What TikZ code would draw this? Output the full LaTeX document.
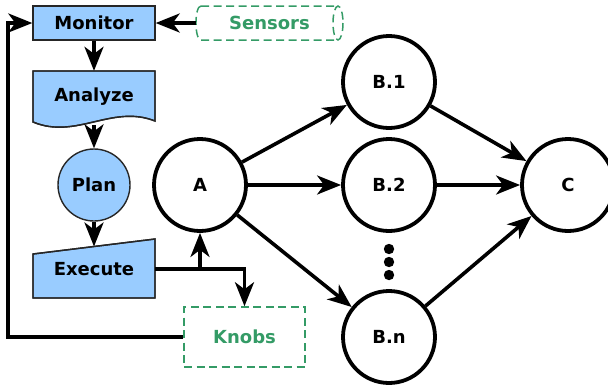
\documentclass[tikz,border=0pt]{standalone}
\usepackage{fontspec}
\setmainfont{DejaVu Sans}
\usetikzlibrary{arrows.meta,calc}
\definecolor{boxblue}{RGB}{153,204,255}
\definecolor{knobgreen}{RGB}{52,155,102}
\tikzset{
  conn/.style={line width=3.6pt,-{Stealth[length=24pt,width=19pt,inset=7pt]}},
  plain/.style={line width=3.6pt},
  mapebox/.style={fill=boxblue,draw=black!85,line width=1.4pt},
  statenode/.style={circle,draw,line width=3.8pt,minimum size=92pt,inner sep=0pt},
  extbox/.style={draw=knobgreen,dashed,dash pattern=on 8pt off 4.5pt,line width=1.5pt},
  lbl/.style={font=\fontsize{18}{21}\selectfont\bfseries},
  glbl/.style={lbl,text=knobgreen},
}
\begin{document}
\begin{tikzpicture}[x=1pt,y=-1pt]
\useasboundingbox (0,0) rectangle (608,384);

% MAPE loop shapes
\fill[mapebox] (33,71) -- (155,71) -- (155,121)
  .. controls (112,104) and (76,140) .. (33,122) -- cycle;
\fill[mapebox] (33,254) -- (155,239) -- (155,298) -- (33,298) -- cycle;
\draw[draw=black!85,line width=1.4pt] (33,71) -- (155,71) -- (155,121)
  .. controls (112,104) and (76,140) .. (33,122) -- cycle;
\draw[draw=black!85,line width=1.4pt] (33,254) -- (155,239) -- (155,298) -- (33,298) -- cycle;

\node[mapebox,draw,minimum width=122pt,minimum height=34pt,inner sep=0pt,lbl] (monitor) at (94,23) {Monitor};
\node[minimum width=122pt,minimum height=52pt,inner sep=0pt,lbl] (analyze) at (94,97) {\raisebox{-5pt}{Analyze}};
\node[circle,mapebox,draw,minimum size=72pt,inner sep=0pt,lbl] (plan) at (94,185) {Plan};
\node[minimum width=122pt,minimum height=59pt,inner sep=0pt,lbl] (execute) at (94,269) {\raisebox{-1pt}{Execute}};
\coordinate (exectop) at (94,246.5);

% sensors drawn as a horizontal cylinder
\node[minimum width=147pt,minimum height=34pt,inner sep=0pt,glbl] (sensors) at (269.5,23) {Sensors};
\draw[extbox] (201,6) -- (338,6) (201,40) -- (338,40)
  (201,6) .. controls (194.3,6) and (194.3,40) .. (201,40);
\draw[extbox] (338,23) ellipse [x radius=5, y radius=17];

\node[extbox,draw,minimum width=121pt,minimum height=60pt,inner sep=0pt,glbl] (knobs) at (244.5,337) {Knobs};

% state graph
\node[statenode,lbl] (A) at (200,185) {A};
\node[statenode,lbl] (B1) at (389,82) {B.1};
\node[statenode,lbl] (B2) at (389,185) {B.2};
\node[statenode,lbl] (Bn) at (389,337) {B.n};
\node[statenode,lbl] (C) at (568,185) {C};
\foreach \yy in {249,262,275} \fill (389,\yy) circle (5.2pt);

% connectors
\draw[conn] (sensors.west) -- (monitor.east);
\draw[conn] (monitor.south) -- (analyze.north);
\draw[conn] (94,125) -- (plan.north);
\draw[conn] (plan.south) -- (exectop);
\coordinate (split) at (200,269);
\draw[plain] (execute.east) -- (split);
\draw[conn] (split) -- (A.south);
\draw[conn] (split) -| (knobs.north);
\draw[conn] (knobs.west) -- (8,337) -- (8,23) -- (monitor.west);

\draw[conn] (A) -- (B1);
\draw[conn] (A) -- (B2);
\draw[conn] (A) -- (Bn);
\draw[conn] (B1) -- (C);
\draw[conn] (B2) -- (C);
\draw[conn] (Bn) -- (C);
\end{tikzpicture}
\end{document}
